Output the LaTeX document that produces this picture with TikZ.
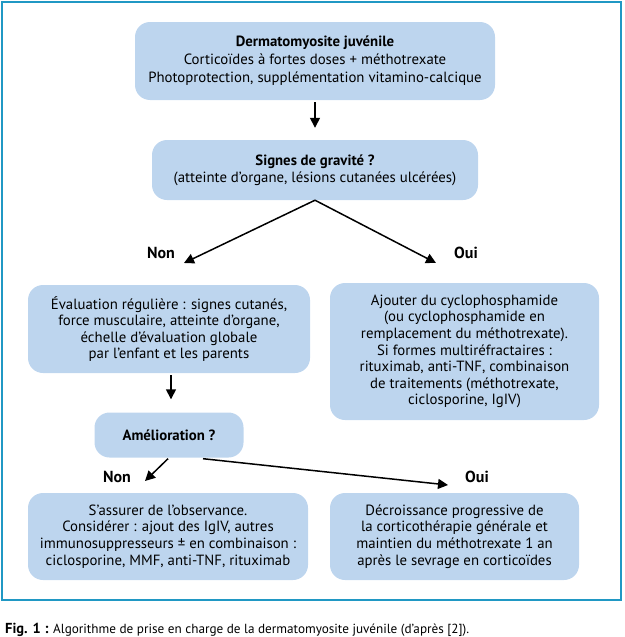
\documentclass[tikz,border=0pt]{standalone}
\usepackage{fontspec}
\setmainfont{PT Sans}
\usetikzlibrary{arrows.meta}

\definecolor{boxblue}{RGB}{189,213,238}
\definecolor{framecol}{RGB}{32,152,196}

\begin{document}
\begin{tikzpicture}[x=1pt, y=-1pt,
    stepbox/.style={fill=boxblue, rounded corners=15pt, align=center, inner sep=0pt,
        font=\fontsize{14.8}{16.6}\selectfont},
    answer/.style={font=\fontsize{16}{18}\selectfont\bfseries, inner sep=0pt},
    flow/.style={-{Triangle[length=10pt, width=10pt]}, line width=1.5pt}]

    \useasboundingbox (0, 0) rectangle (624, 637);

    % Frame
    \draw[framecol, line width=2pt] (2, 2) rectangle (621, 600);

    % Boxes
    \node[stepbox, minimum width=360pt, minimum height=78pt, font=\fontsize{14.8}{18}\selectfont] (start) at (315, 61)
        {\textbf{Dermatomyosite juvénile}\\Corticoïdes à fortes doses + méthotrexate\\Photoprotection, supplémentation vitamino-calcique};
    \node[stepbox, minimum width=326pt, minimum height=60pt] (gravity) at (315, 170)
        {\textbf{Signes de gravité ?}\\(atteinte d’organe, lésions cutanées ulcérées)};
    \node[stepbox, minimum width=282pt, minimum height=88pt] (followup) at (169, 329)
        {Évaluation régulière : signes cutanés,\\force musculaire, atteinte d’organe,\\échelle d’évaluation globale\\par l’enfant et les parents};
    \node[stepbox, minimum width=269pt, minimum height=137pt] (cyclo) at (464.5, 351.5)
        {Ajouter du cyclophosphamide\\(ou cyclophosphamide en\\remplacement du méthotrexate).\\Si formes multiréfractaires :\\rituximab, anti-TNF, combinaison\\de traitements (méthotrexate,\\ciclosporine, IgIV)};
    \node[stepbox, minimum width=149pt, minimum height=45pt] (better) at (169, 435)
        {\textbf{Amélioration ?}};
    \node[stepbox, minimum width=280pt, minimum height=87pt] (observe) at (168, 536.5)
        {S’assurer de l’observance.\\Considérer : ajout des IgIV, autres\\immunosuppresseurs ± en combinaison :\\ciclosporine, MMF, anti-TNF, rituximab};
    \node[stepbox, minimum width=249pt, minimum height=87pt] (taper) at (454.5, 536.5)
        {Décroissance progressive de\\la corticothérapie générale et\\maintien du méthotrexate 1 an\\après le sevrage en corticoïdes};

    % Answers
    \node[answer] (no1) at (161, 253) {Non};
    \node[answer] (yes1) at (466, 253) {Oui};
    \node[answer] (no2) at (117, 477) {Non};
    \node[answer] (yes2) at (477, 477) {Oui};

    % Arrow ends
    \coordinate (no1tip) at (184, 263);
    \coordinate (yes1tip) at (436, 263);
    \coordinate (no2tip) at (145, 481);
    \coordinate (yes2tip) at (448, 485);

    % Arrows
    \draw[flow] ([yshift=-2pt]start.south) -- ([yshift=12pt]gravity.north);
    \draw[flow] (gravity.south) -- (no1tip);
    \draw[flow] (gravity.south) -- (yes1tip);
    \draw[flow] ([xshift=2pt, yshift=-2pt]followup.south) -- ([xshift=2pt, yshift=13pt]better.north);
    \draw[flow] ([xshift=-1pt, yshift=-1pt]better.south) -- (no2tip);
    \draw[flow] ([xshift=34pt, yshift=-1pt]better.south) -- (yes2tip);

    % Caption
    \node[anchor=base west, inner sep=0pt, font=\fontsize{13.2}{15}\selectfont] (caption) at (5, 633)
        {{\fontsize{14.5}{15}\selectfont\bfseries Fig. 1 :} Algorithme de prise en charge de la dermatomyosite juvénile (d’après [2]).};

\end{tikzpicture}
\end{document}
